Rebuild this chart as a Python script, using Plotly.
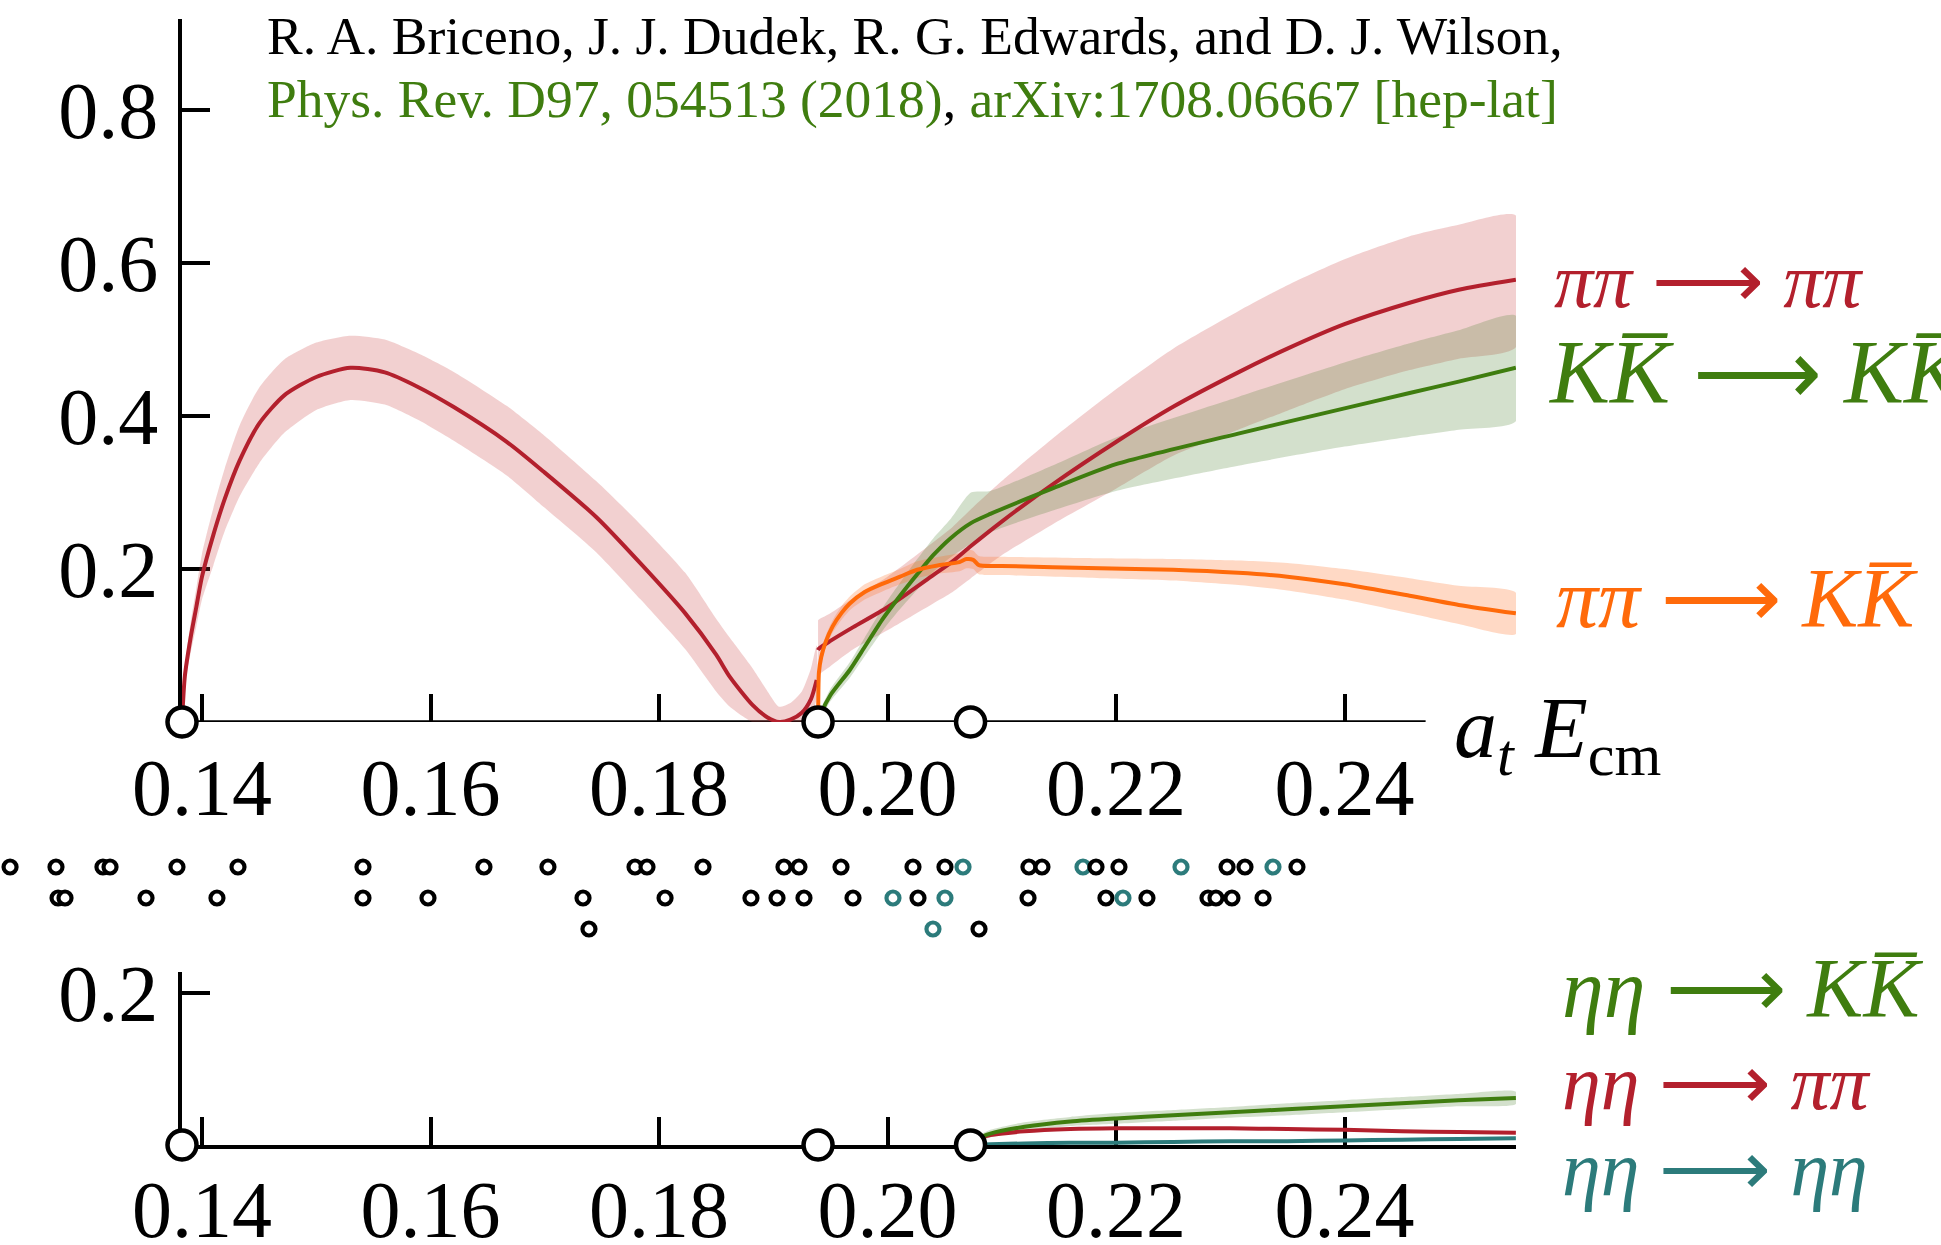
import plotly.graph_objects as go

# ---------------- data ----------------
# two-particle thresholds in a_t E_cm  (2 m_pi, 2 m_K, 2 m_eta)
thresholds = [0.13825, 0.19392, 0.20727]

# pi pi -> pi pi
pipi_E = [0.13825, 0.1385, 0.1390, 0.1395, 0.1400, 0.1410, 0.1420, 0.1433, 0.1450, 0.1472,
          0.1500, 0.1530, 0.1560, 0.1589, 0.1620, 0.1667, 0.1700, 0.1745, 0.1784, 0.1823,
          0.1850, 0.1862, 0.1882, 0.1895, 0.1905, 0.1915, 0.1925, 0.1933, 0.1938, 0.19392,
          0.1940, 0.1950, 0.1970, 0.2000, 0.2040, 0.2057, 0.2073, 0.2100, 0.2144, 0.2200,
          0.2250, 0.2307, 0.2350, 0.2400, 0.2457, 0.2500, 0.2550]
pipi_val = [0.000, 0.060, 0.110, 0.150, 0.190, 0.245, 0.292, 0.342, 0.390, 0.427,
            0.451, 0.463, 0.457, 0.438, 0.412, 0.366, 0.326, 0.268, 0.207, 0.142,
            0.088, 0.059, 0.022, 0.006, 0.000, 0.003, 0.012, 0.030, 0.055, 0.094,
            0.096, 0.106, 0.124, 0.150, 0.192, 0.210, 0.230, 0.262, 0.310, 0.366,
            0.412, 0.457, 0.488, 0.520, 0.548, 0.565, 0.578]
pipi_hi = [0.000, 0.070, 0.130, 0.175, 0.220, 0.280, 0.332, 0.388, 0.437, 0.474,
           0.496, 0.505, 0.500, 0.482, 0.458, 0.413, 0.374, 0.315, 0.258, 0.195,
           0.135, 0.110, 0.070, 0.040, 0.020, 0.025, 0.040, 0.070, 0.100, 0.133,
           0.134, 0.142, 0.162, 0.190, 0.235, 0.255, 0.278, 0.315, 0.370, 0.435,
           0.488, 0.537, 0.571, 0.605, 0.635, 0.650, 0.662]
pipi_lo = [0.000, 0.050, 0.090, 0.125, 0.160, 0.205, 0.250, 0.295, 0.338, 0.378,
           0.408, 0.421, 0.415, 0.395, 0.368, 0.322, 0.280, 0.222, 0.160, 0.095,
           0.040, 0.020, 0.000, 0.000, 0.000, 0.000, 0.000, 0.010, 0.030, 0.060,
           0.062, 0.073, 0.095, 0.120, 0.155, 0.170, 0.188, 0.218, 0.258, 0.305,
           0.348, 0.382, 0.407, 0.435, 0.460, 0.475, 0.490]

# K Kbar -> K Kbar
kk_E = [0.19392, 0.1942, 0.1950, 0.1967, 0.1980, 0.1996, 0.2010, 0.2026, 0.2040, 0.2055,
        0.2073, 0.2090, 0.2144, 0.2200, 0.2307, 0.2400, 0.2457, 0.2500, 0.2550]
kk_val = [0.000, 0.012, 0.035, 0.068, 0.098, 0.135, 0.163, 0.193, 0.218, 0.240,
          0.260, 0.272, 0.305, 0.337, 0.377, 0.410, 0.430, 0.445, 0.463]
kk_hi = [0.000, 0.018, 0.043, 0.078, 0.110, 0.150, 0.180, 0.213, 0.240, 0.265,
         0.300, 0.302, 0.335, 0.372, 0.425, 0.470, 0.495, 0.512, 0.531]
kk_lo = [0.000, 0.006, 0.027, 0.058, 0.086, 0.120, 0.146, 0.173, 0.196, 0.215,
         0.233, 0.248, 0.276, 0.302, 0.335, 0.360, 0.373, 0.382, 0.393]

# pi pi -> K Kbar
pk_E = [0.19392, 0.19395, 0.1940, 0.1942, 0.1946, 0.1952, 0.1960, 0.1967, 0.1980, 0.1996,
        0.2011, 0.2026, 0.2045, 0.2063, 0.2069, 0.2075, 0.2080, 0.2100, 0.2186, 0.2250,
        0.2307, 0.2350, 0.2400, 0.2457, 0.2500, 0.2550]
pk_val = [0.000, 0.040, 0.065, 0.085, 0.105, 0.125, 0.143, 0.155, 0.170, 0.181,
          0.190, 0.199, 0.205, 0.209, 0.213, 0.212, 0.205, 0.204, 0.201, 0.199,
          0.195, 0.190, 0.180, 0.165, 0.153, 0.142]
pk_err = [0.000, 0.006, 0.007, 0.008, 0.008, 0.008, 0.009, 0.009, 0.010, 0.010,
          0.010, 0.011, 0.011, 0.012, 0.012, 0.012, 0.012, 0.012, 0.013, 0.014,
          0.016, 0.018, 0.020, 0.023, 0.025, 0.027]

# eta eta -> K Kbar, eta eta -> pi pi, eta eta -> eta eta
ee_E = [0.20727, 0.2090, 0.2120, 0.2160, 0.2200, 0.2250, 0.2300, 0.2350, 0.2400, 0.2450, 0.2500, 0.2550]
eek_val = [0.005, 0.015, 0.024, 0.031, 0.035, 0.039, 0.043, 0.047, 0.051, 0.055, 0.059, 0.062]
eek_err = [0.002, 0.005, 0.006, 0.006, 0.007, 0.007, 0.007, 0.008, 0.008, 0.008, 0.008, 0.008]
eep_val = [0.004, 0.013, 0.018, 0.021, 0.022, 0.022, 0.022, 0.021, 0.020, 0.018, 0.017, 0.016]
eee_val = [0.000, 0.001, 0.002, 0.003, 0.003, 0.004, 0.005, 0.005, 0.006, 0.007, 0.008, 0.009]

# finite-volume energy levels, three rows (flag 1 = level with eta eta content)
lev1_E = [0.12320, 0.12722, 0.13133, 0.13195, 0.13781, 0.14315, 0.15409, 0.16468, 0.17028,
          0.17790, 0.17895, 0.18385, 0.19094, 0.19225, 0.19593, 0.20223, 0.20503, 0.20661,
          0.21238, 0.21352, 0.21711, 0.21825, 0.22026, 0.22569, 0.22972, 0.23129, 0.23374,
          0.23584]
lev1_eta = [0, 0, 0, 0, 0, 0, 0, 0, 0,
            0, 0, 0, 0, 0, 0, 0, 0, 1,
            0, 0, 1, 0, 0, 1, 0, 0, 1,
            0]
lev2_E = [0.12740, 0.12801, 0.13510, 0.14131, 0.15409, 0.15978, 0.17335, 0.18053, 0.18805,
          0.19033, 0.19269, 0.19698, 0.20048, 0.20267, 0.20503, 0.21230, 0.21912, 0.22061,
          0.22271, 0.22805, 0.22875, 0.23015, 0.23287]
lev2_eta = [0, 0, 0, 0, 0, 0, 0, 0, 0,
            0, 0, 0, 1, 0, 1, 0, 0, 1,
            0, 0, 0, 0, 0]
lev3_E = [0.17387, 0.20398, 0.20801]
lev3_eta = [0, 1, 0]

x_ticks = [0.14, 0.16, 0.18, 0.20, 0.22, 0.24]
x_ticklabels = ["0.14", "0.16", "0.18", "0.20", "0.22", "0.24"]
y_ticks_top = [0.2, 0.4, 0.6, 0.8]
y_ticklabels_top = ["0.2", "0.4", "0.6", "0.8"]
y_ticks_bot = [0.2]
y_ticklabels_bot = ["0.2"]

# ---------------- styles ----------------
RED = "#b3202d"
GREEN = "#3f7d0f"
ORANGE = "#ff6a0a"
TEAL = "#2c7b7b"
RED_BAND = "rgba(200,60,60,0.24)"
GREEN_BAND = "rgba(70,125,40,0.24)"
ORANGE_BAND = "rgba(255,110,30,0.26)"
SERIF = "Liberation Serif"
W, H = 1941, 1245


def band(E, lo, hi, color, xa, ya):
    return go.Scatter(x=list(E) + list(E)[::-1], y=list(hi) + list(lo)[::-1],
                      fill="toself", fillcolor=color, mode="none",
                      line=dict(shape="spline", smoothing=0.6),
                      hoverinfo="skip", xaxis=xa, yaxis=ya, showlegend=False)


def line(E, v, color, xa, ya, width=4):
    return go.Scatter(x=E, y=v, mode="lines",
                      line=dict(color=color, width=width, shape="spline", smoothing=0.7),
                      xaxis=xa, yaxis=ya, showlegend=False)


def split(E, *cols, at):
    """Split curves at a threshold so the cusp stays sharp."""
    i = E.index(at)
    return [(E[:i], *[c[:i] for c in cols]), (E[i:], *[c[i:] for c in cols])]


fig = go.Figure()

# top panel: bands, then central curves
for seg in split(pipi_E, pipi_lo, pipi_hi, at=thresholds[1]):
    fig.add_trace(band(seg[0], seg[1], seg[2], RED_BAND, "x", "y"))
fig.add_trace(band(kk_E, kk_lo, kk_hi, GREEN_BAND, "x", "y"))
fig.add_trace(band(pk_E, [v - e for v, e in zip(pk_val, pk_err)],
                   [v + e for v, e in zip(pk_val, pk_err)], ORANGE_BAND, "x", "y"))
for seg in split(pipi_E, pipi_val, at=thresholds[1]):
    fig.add_trace(line(seg[0], seg[1], RED, "x", "y"))
fig.add_trace(line(kk_E, kk_val, GREEN, "x", "y"))
fig.add_trace(line(pk_E, pk_val, ORANGE, "x", "y"))

# bottom panel
fig.add_trace(band(ee_E, [v - e for v, e in zip(eek_val, eek_err)],
                   [v + e for v, e in zip(eek_val, eek_err)], GREEN_BAND, "x2", "y2"))
fig.add_trace(line(ee_E, eee_val, TEAL, "x2", "y2"))
fig.add_trace(line(ee_E, eep_val, RED, "x2", "y2"))
fig.add_trace(line(ee_E, eek_val, GREEN, "x2", "y2"))

# threshold circles on both energy axes
for xa, ya in (("x", "y"), ("x2", "y2")):
    fig.add_trace(go.Scatter(x=thresholds, y=[0] * len(thresholds), mode="markers",
                             marker=dict(symbol="circle", size=29, color="white",
                                         line=dict(color="black", width=4.5)),
                             cliponaxis=False, xaxis=xa, yaxis=ya, showlegend=False))

# energy levels
for row, (Es, flags) in enumerate(((lev1_E, lev1_eta), (lev2_E, lev2_eta), (lev3_E, lev3_eta)), start=1):
    fig.add_trace(go.Scatter(
        x=Es, y=[row] * len(Es), mode="markers",
        marker=dict(symbol="circle", size=13, color="white",
                    line=dict(color=[TEAL if f else "black" for f in flags], width=4.2)),
        cliponaxis=False, xaxis="x3", yaxis="y3", showlegend=False))

# ---------------- axes ----------------
x_px0, x_px1 = 182, 1516            # plotting columns
px_per_unit = 11425.0
e_left = 0.14 - (202 - x_px0) / px_per_unit
e_right = 0.14 + (x_px1 - 202) / px_per_unit
e_far_left = 0.14 - 202 / px_per_unit

tickfont = dict(family=SERIF, size=80, color="black")
xcommon = dict(range=[e_left, e_right], domain=[x_px0 / W, x_px1 / W], automargin=False,
               tickvals=x_ticks, ticktext=x_ticklabels, ticks="inside", ticklen=28,
               tickwidth=3.5, tickcolor="black", tickfont=tickfont, showgrid=False,
               zeroline=False, layer="below traces")
ycommon = dict(ticks="inside", ticklen=28, tickwidth=3.5, tickcolor="black", automargin=False,
               tickfont=tickfont, showgrid=False, zeroline=False, showline=True,
               linecolor="black", linewidth=3.5, layer="below traces", ticklabelstandoff=4)

fig.update_layout(
    width=W, height=H, margin=dict(l=0, r=0, t=0, b=0, pad=0, autoexpand=False),
    paper_bgcolor="white", plot_bgcolor="rgba(0,0,0,0)",
    xaxis=dict(xcommon, anchor="y", showline=False, ticklabelstandoff=12),
    yaxis=dict(ycommon, anchor="x", range=[0, (722 - 19) / 765.0],
               domain=[1 - 722 / H, 1 - 19 / H],
               tickvals=y_ticks_top, ticktext=y_ticklabels_top),
    xaxis2=dict(xcommon, anchor="y2", showline=True, linecolor="black", linewidth=3.5,
                ticklabelstandoff=-8),
    yaxis2=dict(ycommon, anchor="x2", range=[0, (1145 - 972) / 760.0],
                domain=[1 - 1145 / H, 1 - 972 / H],
                tickvals=y_ticks_bot, ticktext=y_ticklabels_bot),
    xaxis3=dict(range=[e_far_left, e_right], domain=[0, x_px1 / W], anchor="y3",
                visible=False, automargin=False),
    yaxis3=dict(range=[3 + 17 / 31, 1 - 17 / 31], domain=[1 - 946 / H, 1 - 850 / H],
                anchor="x3", visible=False, automargin=False),
)

# top energy axis line stops short of the curves
fig.add_shape(type="line", xref="x", yref="y", x0=thresholds[0], x1=0.2471, y0=0, y1=0,
              line=dict(color="black", width=3.5), layer="below")

# ---------------- text ----------------
def label(text, x_px, y_px, size, color="black", anchor="left"):
    fig.add_annotation(text=text, x=x_px / W, y=1 - y_px / H, xref="paper", yref="paper",
                       xanchor=anchor, yanchor="middle", showarrow=False,
                       font=dict(family=SERIF, size=size, color=color))

label("R. A. Briceno, J. J. Dudek, R. G. Edwards, and D. J. Wilson,", 265, 36, 53.5)
label(f'<span style="color:{GREEN}">Phys. Rev. D97, 054513 (2018)</span>, '
      f'<span style="color:{GREEN}">arXiv:1708.06667 [hep-lat]</span>', 265, 99, 53.5)

label("<i>a</i><sub><i>t</i></sub> <i>E</i><sub>cm</sub>", 1452, 734, 86)

KB = "<i>K</i><i>K\u0305</i>"
label("<i>ππ</i> ⟶ <i>ππ</i>", 1552, 280, 78, RED)
label(f"{KB} ⟶ {KB}", 1546, 372, 90, GREEN)
label(f"<i>ππ</i> ⟶ {KB}", 1554, 598, 84, ORANGE)
label(f"<i>ηη</i> ⟶ {KB}", 1560, 988, 84, GREEN)
label("<i>ηη</i> ⟶ <i>ππ</i>", 1560, 1082, 78, RED)
label("<i>ηη</i> ⟶ <i>ηη</i>", 1560, 1168, 78, TEAL)

fig.write_html("out.html")
